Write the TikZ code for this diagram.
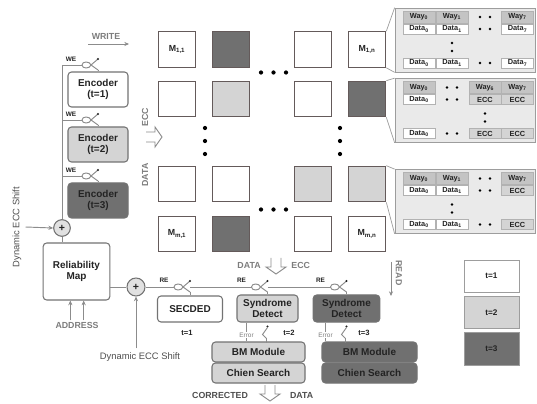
\documentclass[tikz,border=0pt]{standalone}
\usepackage{fontspec}
\setmainfont{Liberation Sans}
\usepackage{xcolor}
\usetikzlibrary{arrows.meta}
\definecolor{relwire}{RGB}{140,140,140}
\definecolor{reledge}{RGB}{115,115,115}
\definecolor{memedge}{RGB}{100,90,90}
\definecolor{relight}{RGB}{212,212,212}
\definecolor{redark}{RGB}{112,112,112}
\definecolor{reltext}{RGB}{35,35,35}
\definecolor{relgray}{RGB}{125,125,125}
\definecolor{tabback}{RGB}{234,234,234}
\definecolor{tabhead}{RGB}{196,196,196}

\tikzset{
  wire/.style={draw=relwire, line width=0.8pt},
  arr/.style={wire, -{Stealth[length=4pt,width=3.5pt]}},
  blk/.style={draw=reledge, line width=0.9pt, rounded corners=3pt, align=center, text=reltext, font=\bfseries\fontsize{8.5}{10}\selectfont, inner sep=1pt},
  memcell/.style={draw=memedge, line width=1.1pt, minimum width=1.12cm, minimum height=1.06cm, inner sep=0pt},
  memlabel/.style={text=reltext, font=\bfseries\fontsize{7.5}{8}\selectfont, inner sep=0pt},
  tabframe/.style={draw=reledge!70, fill=tabback, line width=0.6pt, minimum width=4.2cm, minimum height=1.92cm, inner sep=0pt},
  callout/.style={draw=reledge!70, line width=0.6pt},
  cell/.style={draw=reledge!55, fill=white, line width=0.4pt, minimum width=0.96cm, minimum height=0.3cm, inner sep=0pt, text=reltext, font=\bfseries\fontsize{6.3}{6.5}\selectfont},
  headcell/.style={cell, fill=tabhead, minimum height=0.37cm},
  adder/.style={circle, draw=reledge, fill=relight!70, line width=0.9pt, minimum size=0.5cm, inner sep=0pt, text=reltext, font=\bfseries\small},
  graylabel/.style={text=relgray, font=\bfseries\fontsize{7.5}{8}\selectfont, inner sep=1pt},
  tlabel/.style={text=reltext, font=\bfseries\fontsize{6.5}{7}\selectfont, inner sep=1pt},
  legendbox/.style={draw=reledge!70, line width=0.8pt, minimum width=1.65cm, minimum height=0.96cm, text=reltext, font=\bfseries\fontsize{7}{8}\selectfont},
  gate/.pic={
    \coordinate (-in) at (0,0);
    \draw[wire, fill=white] (0,0) .. controls (0,-4) and (8,-4) .. (9,0) .. controls (8,4) and (0,4) .. (0,0);
    \draw[wire] (9,0) -- (16,-6);
    \fill[reltext] (16,-6) circle[radius=1pt];
    \draw[wire] (9,0) -- (16,5);
    \coordinate (-out) at (16,5);
  },
  errswitch/.pic={
    \fill[reltext] (0,0) circle[radius=1pt];
    \draw[wire] (0,1) -- (-5,8) -- (-1,12) -- (-1,16);
  },
  merge/.pic={
    \draw[wire] (-5,-9) -- (-5,0) -- (-10,0) -- (0,7) -- (10,0) -- (5,0) -- (5,-9);
  }
}

\begin{document}
\begin{tikzpicture}[x=0.03cm, y=-0.03cm]
\useasboundingbox (0,0) rectangle (537,404);
\fill[white] (0,0) rectangle (537,404);

% memory array
\foreach \r/\yy/\fa/\fb/\fc/\fd in {1/49.5/white/redark/white/white, 2/99/white/relight/white/redark, 3/184/white/white/relight/relight, 4/234/white/redark/white/white}{
  \node[memcell, fill=\fa] (m\r-1) at (177,\yy) {};
  \node[memcell, fill=\fb] (m\r-2) at (231,\yy) {};
  \node[memcell, fill=\fc] (m\r-3) at (313,\yy) {};
  \node[memcell, fill=\fd] (m\r-4) at (367,\yy) {};
}
\node[memlabel] (lbl11) at (m1-1) {M\textsubscript{1,1}};
\node[memlabel] (lbl1n) at (m1-4) {M\textsubscript{1,n}};
\node[memlabel] (lblm1) at (m4-1) {M\textsubscript{m,1}};
\node[memlabel] (lblmn) at (m4-4) {M\textsubscript{m,n}};
\foreach \xx in {261,273.5,286}{
  \fill (\xx,72.5) circle[radius=1.8pt];
  \fill (\xx,209.5) circle[radius=1.8pt];
}
\foreach \yy in {128,141,154}{
  \fill (205,\yy) circle[radius=1.8pt];
  \fill (340,\yy) circle[radius=1.8pt];
}

% way tables
\node[tabframe] (tab1) at (465,40) {};
\draw[callout] (m1-4.north east) -- (tab1.north west);
\draw[callout] (m1-4.south east) -- (tab1.south west);
\foreach \c/\xx/\hd/\da/\db/\cellfill in {1/419/Way\textsubscript{0}/Data\textsubscript{0}/Data\textsubscript{0}/white, 2/452/Way\textsubscript{1}/Data\textsubscript{1}/Data\textsubscript{1}/white, 4/517.5/Way\textsubscript{7}/Data\textsubscript{7}/Data\textsubscript{7}/white}{
  \node[headcell] (t1h\c) at (\xx,17) {\hd};
  \node[cell, fill=\cellfill] (t1d\c) at (\xx,29) {\da};
  \node[cell, fill=\cellfill] (t1l\c) at (\xx,63) {\db};
}
\foreach \yy in {17,29,63}{
  \fill (480,\yy) circle[radius=1.2pt];
  \fill (490,\yy) circle[radius=1.2pt];
}
\foreach \yy in {43,51}{\fill (452,\yy) circle[radius=1.2pt];}

\node[tabframe] (tab2) at (465,110.5) {};
\draw[callout] (m2-4.north east) -- (tab2.north west);
\draw[callout] (m2-4.south east) -- (tab2.south west);
\foreach \c/\xx/\hd/\da/\db/\cellfill in {1/419/Way\textsubscript{0}/Data\textsubscript{0}/Data\textsubscript{0}/white, 3/485/Way\textsubscript{6}/ECC/ECC/relight, 4/517.5/Way\textsubscript{7}/ECC/ECC/relight}{
  \node[headcell] (t2h\c) at (\xx,87.5) {\hd};
  \node[cell, fill=\cellfill] (t2d\c) at (\xx,99.5) {\da};
  \node[cell, fill=\cellfill] (t2l\c) at (\xx,133.5) {\db};
}
\foreach \yy in {87.5,99.5,133.5}{
  \fill (447,\yy) circle[radius=1.2pt];
  \fill (457,\yy) circle[radius=1.2pt];
}
\foreach \yy in {113.5,121.5}{\fill (485,\yy) circle[radius=1.2pt];}

\node[tabframe] (tab3) at (465,201.5) {};
\draw[callout] (m3-4.north east) -- (tab3.north west);
\draw[callout] (m3-4.south east) -- (tab3.south west);
\foreach \c/\xx/\hd/\da/\db/\cellfill in {1/419/Way\textsubscript{0}/Data\textsubscript{0}/Data\textsubscript{0}/white, 2/452/Way\textsubscript{1}/Data\textsubscript{1}/Data\textsubscript{1}/white, 4/517.5/Way\textsubscript{7}/ECC/ECC/relight}{
  \node[headcell] (t3h\c) at (\xx,178.5) {\hd};
  \node[cell, fill=\cellfill] (t3d\c) at (\xx,190.5) {\da};
  \node[cell, fill=\cellfill] (t3l\c) at (\xx,224.5) {\db};
}
\foreach \yy in {178.5,190.5,224.5}{
  \fill (480,\yy) circle[radius=1.2pt];
  \fill (490,\yy) circle[radius=1.2pt];
}
\foreach \yy in {204.5,212.5}{\fill (452,\yy) circle[radius=1.2pt];}

% write side
\node[graylabel] (writelbl) at (106,36) {WRITE};
\coordinate (writel) at (88,44);
\coordinate (writer) at (129,44);
\draw[arr] (writel) -- (writer);

\node[blk, fill=white, minimum width=1.8cm, minimum height=1.05cm] (enc1) at (98,89.5) {Encoder\\(t=1)};
\node[blk, fill=relight, minimum width=1.8cm, minimum height=1.05cm] (enc2) at (98,144.5) {Encoder\\(t=2)};
\node[blk, fill=redark, minimum width=1.8cm, minimum height=1.05cm] (enc3) at (98,200.5) {Encoder\\(t=3)};

\node[adder] (add1) at (62,228) {+};
\node[text=reltext!80, font=\fontsize{8}{9}\selectfont, rotate=90] (dynl) at (17,227) {Dynamic ECC Shift};
\draw[arr] (dynl.south) -- (add1.west);

\foreach \i/\yy in {1/65,2/120,3/176}{
  \pic (we\i) at (82,\yy) {gate};
  \node[tlabel, font=\bfseries\fontsize{5.5}{6}\selectfont] (welbl\i) at (71,\yy-6) {WE};
  \draw[wire] (add1 |- we\i-in) -- (we\i-in);
  \draw[wire] (we\i-out) -- (we\i-out |- enc\i.north);
}
\draw[wire] (add1.north) -- (add1 |- we1-in);

\node[graylabel, rotate=90] (leccl) at (145,117) {ECC};
\node[graylabel, rotate=90] (ldatal) at (145,175) {DATA};
\pic[rotate=90] (mergel) at (155,137) {merge};

% read side
\node[blk, fill=white, minimum width=2.0cm, minimum height=1.71cm] (relmap) at (76.5,271.5) {Reliability\\Map};
\draw[wire] (add1.south) -- (add1 |- relmap.north);
\node[graylabel] (addr) at (77,325) {ADDRESS};
\draw[arr] ([xshift=-0.2cm]addr.north) -- ([xshift=-0.2cm]addr.north |- relmap.south);
\draw[arr] ([xshift=0.2cm]addr.north) -- ([xshift=0.2cm]addr.north |- relmap.south);

\node[adder, minimum size=0.54cm] (add2) at (136,287) {+};
\draw[wire] (relmap.east |- add2) -- (add2.west);
\node[text=reltext!80, font=\fontsize{8}{9}\selectfont] (dynb) at (140,357) {Dynamic ECC Shift};
\draw[arr] (dynb.north -| add2) -- (add2.south);

\node[blk, fill=white, minimum width=1.95cm, minimum height=0.78cm] (secded) at (190,309) {SECDED};
\node[blk, fill=relight, minimum width=1.83cm, minimum height=0.81cm] (syn2) at (267.5,308.5) {Syndrome\\Detect};
\node[blk, fill=redark, minimum width=2.0cm, minimum height=0.81cm] (syn3) at (346.5,308.5) {Syndrome\\Detect};

\pic (re1) at (174,287) {gate};
\pic (re2) at (251.5,287) {gate};
\pic (re3) at (330.5,287) {gate};
\draw[wire] (add2.east) -- (re1-in);
\draw[wire] (re1-out) ++(0,-5) -- (re2-in);
\draw[wire] (re2-out) ++(0,-5) -- (re3-in);
\foreach \i/\blkname in {1/secded,2/syn2,3/syn3}{
  \draw[wire] (re\i-out) -- (re\i-out |- \blkname.north);
  \node[tlabel, font=\bfseries\fontsize{5.5}{6}\selectfont] (relbl\i) at ([xshift=-0.3cm,yshift=0.2cm]re\i-in) {RE};
}

\node[tlabel] (tone) at (187,333) {t=1};
\node[tlabel] (ttwo) at (289,333) {t=2};
\node[tlabel] (tthree) at (364,333) {t=3};

\node[blk, fill=relight, minimum width=2.79cm, minimum height=0.6cm] (bm2) at (258.5,352) {BM Module};
\node[blk, fill=relight, minimum width=2.79cm, minimum height=0.6cm] (chien2) at (258.5,373) {Chien Search};
\node[blk, fill=redark, minimum width=2.85cm, minimum height=0.6cm] (bm3) at (369.5,352) {BM Module};
\node[blk, fill=redark, minimum width=2.85cm, minimum height=0.6cm] (chien3) at (369.5,373) {Chien Search};

\foreach \i in {2,3}{
  \draw[wire] ([xshift=-0.63cm]syn\i.south) -- ([xshift=-0.63cm]syn\i.south |- bm\i.north);
  \node[graylabel, font=\fontsize{5.5}{6}\selectfont, fill=white, inner sep=0.5pt] (err\i) at ([xshift=-0.63cm,yshift=-0.38cm]syn\i.south) {Error};
  \pic (esw\i) at ([yshift=-0.12cm]syn\i.south) {errswitch};
}

\node[graylabel] (datatop) at (262,265) [anchor=east] {DATA};
\node[graylabel] (ecctop) at (290,265) [anchor=west] {ECC};
\pic (mergetop) at (276,267) {merge};

\node[text=reltext!80, font=\bfseries\fontsize{7.5}{8}\selectfont, anchor=east] (corr) at (252,395) {CORRECTED};
\node[text=reltext!80, font=\bfseries\fontsize{7.5}{8}\selectfont, anchor=west] (corrdata) at (286,395) {DATA};
\pic (mergebot) at (270,394) {merge};

\node[graylabel, rotate=-90] (readlbl) at (399,273) {READ};
\coordinate (readtop) at (391,262);
\coordinate (readbot) at (391,296);
\draw[arr] (readtop) -- (readbot);

% legend
\node[legendbox, fill=white] (lg1) at (491.5,276) {t=1};
\node[legendbox, fill=relight] (lg2) at (491.5,312.5) {t=2};
\node[legendbox, fill=redark, minimum height=0.99cm] (lg3) at (491.5,348.5) {t=3};
\end{tikzpicture}
\end{document}
